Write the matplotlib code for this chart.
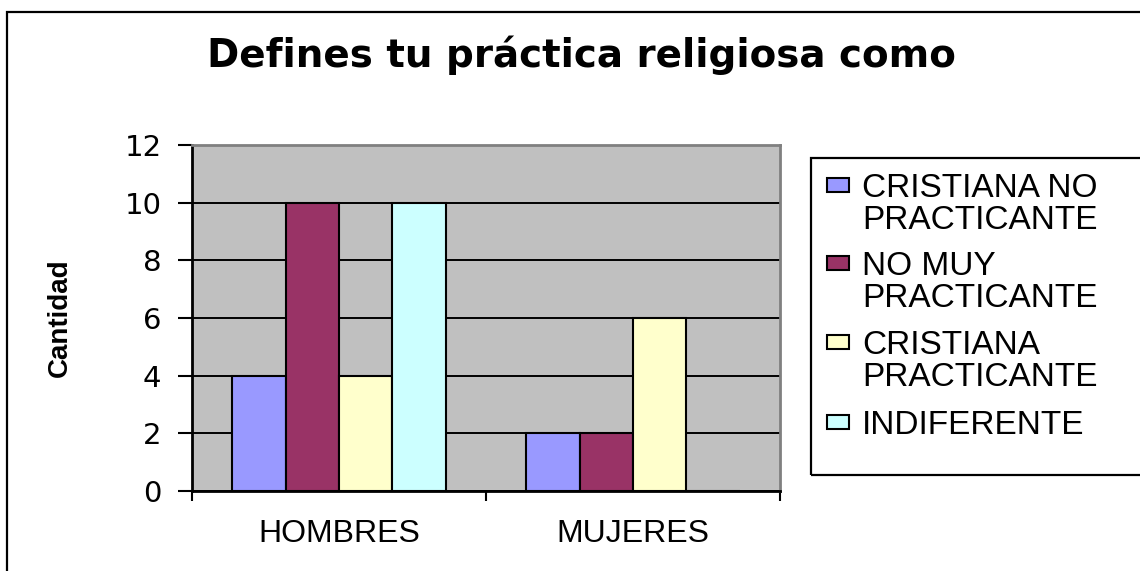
import matplotlib
matplotlib.use("Agg")
import matplotlib.pyplot as plt
from matplotlib.patches import Rectangle
import numpy as np

# ---- data ----
categories = ["HOMBRES", "MUJERES"]
series_names = ["CRISTIANA NO\nPRACTICANTE", "NO MUY\nPRACTICANTE",
                "CRISTIANA\nPRACTICANTE", "INDIFERENTE"]
cristiana_no_practicante = [4, 2]
no_muy_practicante = [10, 2]
cristiana_practicante = [4, 6]
indiferente = [10, 0]
series_values = [cristiana_no_practicante, no_muy_practicante,
                 cristiana_practicante, indiferente]
series_colors = ["#9999FF", "#993366", "#FFFFCC", "#CCFFFF"]
y_ticks = [0, 2, 4, 6, 8, 10, 12]
title = "Defines tu práctica religiosa como"
y_label = "Cantidad"

plt.rcParams['font.family'] = ['Liberation Sans', 'DejaVu Sans']

W, H = 1140, 571
fig = plt.figure(figsize=(W / 100, H / 100), dpi=100)
fig.patch.set_facecolor("white")


def fx(px):
    return px / W


def fy(py):
    return 1 - py / H


# outer chart frame
fig.patches.append(Rectangle((fx(7), -0.05), 1.1, fy(12) + 0.05,
                             transform=fig.transFigure, fill=False,
                             edgecolor="black", linewidth=1.6, zorder=0))

ax = fig.add_axes([fx(192), fy(491), 588 / W, 346 / H])
ax.set_facecolor("#C0C0C0")

x = np.arange(len(categories))
n = len(series_values)
bw = 1 / 5.5
for i, (vals, col, name) in enumerate(zip(series_values, series_colors, series_names)):
    offs = (i - (n - 1) / 2) * bw
    ax.bar(x + offs, vals, width=bw, color=col, edgecolor="black",
           linewidth=1.5, label=name.replace("\n", " "), zorder=3)

ax.set_xlim(-0.5, len(categories) - 0.5)
ax.set_ylim(0, 12)
ax.set_yticks(y_ticks)
ax.set_yticklabels([str(t) for t in y_ticks], fontsize=21,
                   family=['DejaVu Sans'])
ax.yaxis.grid(True, color="black", linewidth=1.4, zorder=1)
ax.set_axisbelow(True)
ax.tick_params(axis="y", direction="out", length=10, width=1.5, pad=12)

ax.set_xticks(np.arange(len(categories) + 1) - 0.5)
ax.set_xticklabels([])
ax.tick_params(axis="x", which="major", direction="out", length=7, width=1.5)
ax.set_xticks(x, minor=True)
ax.set_xticklabels(categories, minor=True, fontsize=23)
ax.tick_params(axis="x", which="minor", length=0, pad=20.5)

for s in ["left", "bottom"]:
    ax.spines[s].set_color("black")
    ax.spines[s].set_linewidth(2)
for s in ["top", "right"]:
    ax.spines[s].set_color("#808080")
    ax.spines[s].set_linewidth(2)

ax.set_ylabel(y_label, fontsize=20, fontweight="bold")
ax.yaxis.set_label_coords((73 - 192) / 588, 0.5)

fig.text(fx(581), fy(55), title, ha="center", va="center",
         fontsize=28, fontweight="bold", family=['DejaVu Sans'])

# legend (boxed key at the right of the plot)
fig.patches.append(Rectangle((fx(811), fy(475)), 0.5, (475 - 158) / H,
                             transform=fig.transFigure, fill=False,
                             edgecolor="black", linewidth=1.6, zorder=0))
first_line_centers = [185, 263, 342, 422]
line_step = 32
for name, col, yc in zip(series_names, series_colors, first_line_centers):
    fig.patches.append(Rectangle((fx(827), fy(yc + 7)), 22 / W, 14 / H,
                                 transform=fig.transFigure, facecolor=col,
                                 edgecolor="black", linewidth=1.5))
    for k, line in enumerate(name.split("\n")):
        fig.text(fx(862), fy(yc + 12 + k * line_step), line,
                 ha="left", va="baseline", fontsize=24)

fig.savefig("out.png", dpi=100)
